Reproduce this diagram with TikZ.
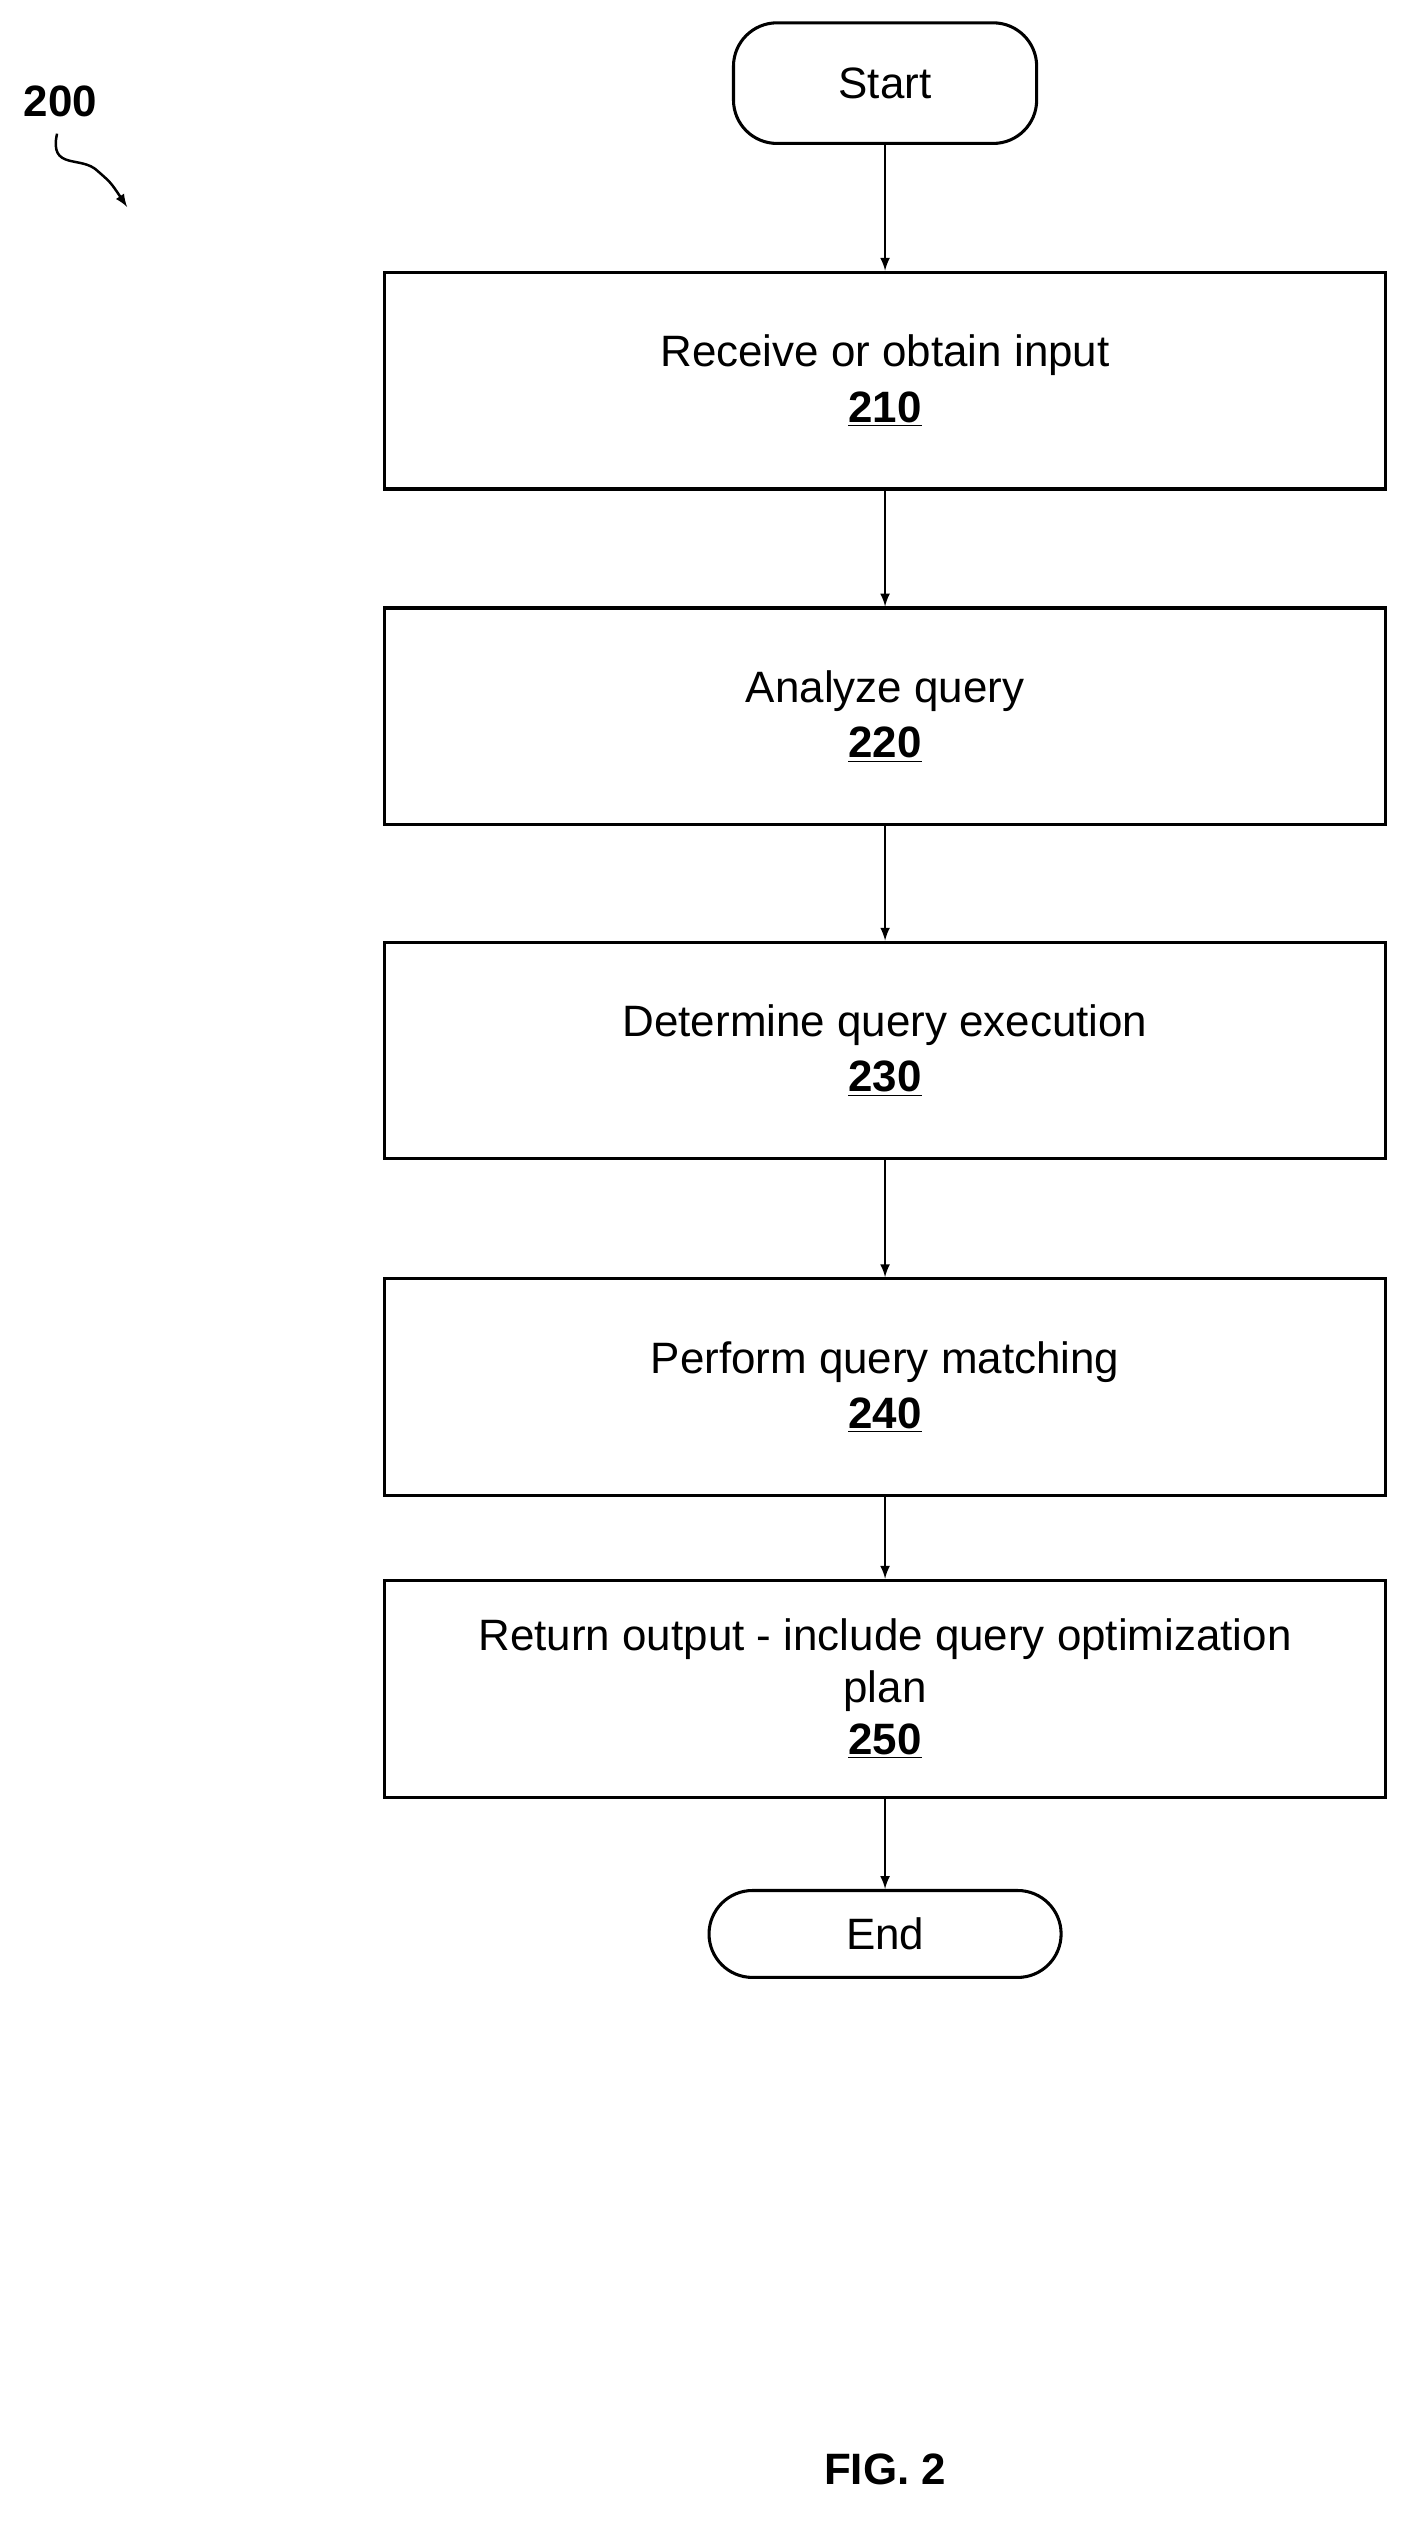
\documentclass[tikz,border=0pt]{standalone}
\usepackage{fontspec}
\setmainfont{Liberation Sans}
\usetikzlibrary{positioning}
\begin{document}
\begin{tikzpicture}[x=0.03cm, y=-0.03cm, font=\fontsize{23}{27}\selectfont,
    process/.style={draw, line width=1.6pt, minimum width=18.42cm, minimum height=3.99cm, align=center},
    term/.style={draw, line width=1.6pt, rounded corners=0.8cm, minimum height=1.6cm},
    flow/.style={-latex, line width=1.3pt}]

  \useasboundingbox (0,0) rectangle (862,1562);

  \node [term, minimum width=5.58cm, minimum height=2.22cm] (start) at (543,51) {Start};
  \node [process] (s210) at (543,233.5) {Receive or obtain input\\[2pt] \textbf{\underline{210}}};
  \node [process] (s220) at (543,439.5) {Analyze query\\[2pt] \textbf{\underline{220}}};
  \node [process] (s230) at (543,644.5) {Determine query execution\\[2pt] \textbf{\underline{230}}};
  \node [process] (s240) at (543,851) {Perform query matching\\[2pt] \textbf{\underline{240}}};
  \node [process] (s250) at (543,1036) {Return output - include query optimization\\plan\\ \textbf{\underline{250}}};
  \node [term, minimum width=6.48cm] (end) at (543,1186.5) {End};

  \draw [flow] (start) -- (s210);
  \draw [flow] (s210) -- (s220);
  \draw [flow] (s220) -- (s230);
  \draw [flow] (s230) -- (s240);
  \draw [flow] (s240) -- (s250);
  \draw [flow] (s250) -- (end);

  % figure reference
  \node [font=\fontsize{23}{27}\selectfont\bfseries] (ref) at (37,62) {200};
  \coordinate (reftip) at (78,127);
  \draw [flow] (35,82) .. controls (30,105) and (50,95) .. (60,105)
        .. controls (68,112) .. (reftip);

  \node [font=\fontsize{23}{27}\selectfont\bfseries] (fig) at (543,1515) {FIG. 2};

\end{tikzpicture}
\end{document}
